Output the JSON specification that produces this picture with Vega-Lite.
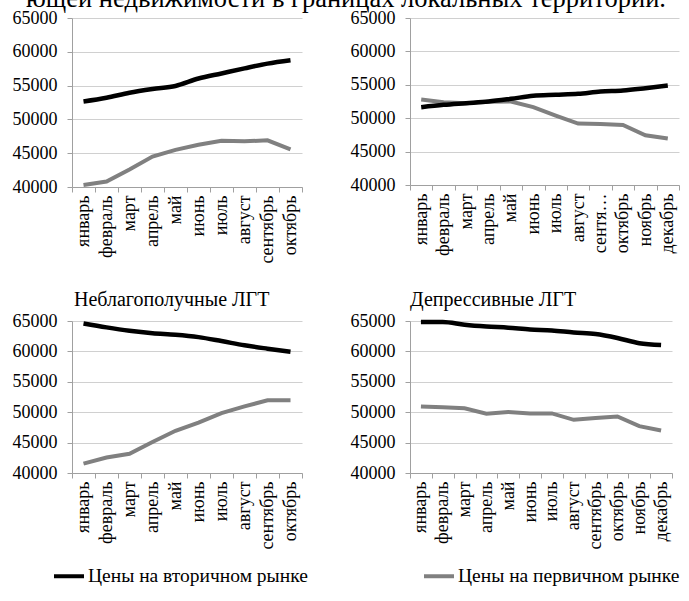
{
  "$schema": "https://vega.github.io/schema/vega-lite/v6.json",
  "padding": {"left": 12, "top": -15, "right": 0, "bottom": 0},
  "title": {"text": "ющей недвижимости в границах локальных территорий.", "font": "Liberation Serif", "fontSize": 26.5, "fontWeight": "normal", "color": "#000000", "anchor": "middle", "offset": -3},
  "datasets": {
    "prices": [
      {"panel": "A", "series": "Цены на вторичном рынке", "month": "январь", "value": 52650},
      {"panel": "A", "series": "Цены на вторичном рынке", "month": "февраль", "value": 53200},
      {"panel": "A", "series": "Цены на вторичном рынке", "month": "март", "value": 53950},
      {"panel": "A", "series": "Цены на вторичном рынке", "month": "апрель", "value": 54500},
      {"panel": "A", "series": "Цены на вторичном рынке", "month": "май", "value": 54950},
      {"panel": "A", "series": "Цены на вторичном рынке", "month": "июнь", "value": 56050},
      {"panel": "A", "series": "Цены на вторичном рынке", "month": "июль", "value": 56800},
      {"panel": "A", "series": "Цены на вторичном рынке", "month": "август", "value": 57550},
      {"panel": "A", "series": "Цены на вторичном рынке", "month": "сентябрь", "value": 58250},
      {"panel": "A", "series": "Цены на вторичном рынке", "month": "октябрь", "value": 58750},
      {"panel": "A", "series": "Цены на первичном рынке", "month": "январь", "value": 40300},
      {"panel": "A", "series": "Цены на первичном рынке", "month": "февраль", "value": 40800},
      {"panel": "A", "series": "Цены на первичном рынке", "month": "март", "value": 42600},
      {"panel": "A", "series": "Цены на первичном рынке", "month": "апрель", "value": 44500},
      {"panel": "A", "series": "Цены на первичном рынке", "month": "май", "value": 45500},
      {"panel": "A", "series": "Цены на первичном рынке", "month": "июнь", "value": 46250},
      {"panel": "A", "series": "Цены на первичном рынке", "month": "июль", "value": 46850},
      {"panel": "A", "series": "Цены на первичном рынке", "month": "август", "value": 46750},
      {"panel": "A", "series": "Цены на первичном рынке", "month": "сентябрь", "value": 46900},
      {"panel": "A", "series": "Цены на первичном рынке", "month": "октябрь", "value": 45550},
      {"panel": "B", "series": "Цены на вторичном рынке", "month": "январь", "value": 51650},
      {"panel": "B", "series": "Цены на вторичном рынке", "month": "февраль", "value": 52000},
      {"panel": "B", "series": "Цены на вторичном рынке", "month": "март", "value": 52250},
      {"panel": "B", "series": "Цены на вторичном рынке", "month": "апрель", "value": 52500},
      {"panel": "B", "series": "Цены на вторичном рынке", "month": "май", "value": 52900},
      {"panel": "B", "series": "Цены на вторичном рынке", "month": "июнь", "value": 53350},
      {"panel": "B", "series": "Цены на вторичном рынке", "month": "июль", "value": 53500},
      {"panel": "B", "series": "Цены на вторичном рынке", "month": "август", "value": 53650},
      {"panel": "B", "series": "Цены на вторичном рынке", "month": "сентябрь", "value": 54000},
      {"panel": "B", "series": "Цены на вторичном рынке", "month": "октябрь", "value": 54150},
      {"panel": "B", "series": "Цены на вторичном рынке", "month": "ноябрь", "value": 54500},
      {"panel": "B", "series": "Цены на вторичном рынке", "month": "декабрь", "value": 54900},
      {"panel": "B", "series": "Цены на первичном рынке", "month": "январь", "value": 52800},
      {"panel": "B", "series": "Цены на первичном рынке", "month": "февраль", "value": 52400},
      {"panel": "B", "series": "Цены на первичном рынке", "month": "март", "value": 52250},
      {"panel": "B", "series": "Цены на первичном рынке", "month": "апрель", "value": 52450},
      {"panel": "B", "series": "Цены на первичном рынке", "month": "май", "value": 52500},
      {"panel": "B", "series": "Цены на первичном рынке", "month": "июнь", "value": 51650},
      {"panel": "B", "series": "Цены на первичном рынке", "month": "июль", "value": 50400},
      {"panel": "B", "series": "Цены на первичном рынке", "month": "август", "value": 49200},
      {"panel": "B", "series": "Цены на первичном рынке", "month": "сентябрь", "value": 49150},
      {"panel": "B", "series": "Цены на первичном рынке", "month": "октябрь", "value": 49000},
      {"panel": "B", "series": "Цены на первичном рынке", "month": "ноябрь", "value": 47450},
      {"panel": "B", "series": "Цены на первичном рынке", "month": "декабрь", "value": 46950},
      {"panel": "C", "series": "Цены на вторичном рынке", "month": "январь", "value": 64600},
      {"panel": "C", "series": "Цены на вторичном рынке", "month": "февраль", "value": 63950},
      {"panel": "C", "series": "Цены на вторичном рынке", "month": "март", "value": 63400},
      {"panel": "C", "series": "Цены на вторичном рынке", "month": "апрель", "value": 63000},
      {"panel": "C", "series": "Цены на вторичном рынке", "month": "май", "value": 62750},
      {"panel": "C", "series": "Цены на вторичном рынке", "month": "июнь", "value": 62350},
      {"panel": "C", "series": "Цены на вторичном рынке", "month": "июль", "value": 61700},
      {"panel": "C", "series": "Цены на вторичном рынке", "month": "август", "value": 61000},
      {"panel": "C", "series": "Цены на вторичном рынке", "month": "сентябрь", "value": 60450},
      {"panel": "C", "series": "Цены на вторичном рынке", "month": "октябрь", "value": 59950},
      {"panel": "C", "series": "Цены на первичном рынке", "month": "январь", "value": 41550},
      {"panel": "C", "series": "Цены на первичном рынке", "month": "февраль", "value": 42550},
      {"panel": "C", "series": "Цены на первичном рынке", "month": "март", "value": 43150},
      {"panel": "C", "series": "Цены на первичном рынке", "month": "апрель", "value": 45100},
      {"panel": "C", "series": "Цены на первичном рынке", "month": "май", "value": 46950},
      {"panel": "C", "series": "Цены на первичном рынке", "month": "июнь", "value": 48300},
      {"panel": "C", "series": "Цены на первичном рынке", "month": "июль", "value": 49850},
      {"panel": "C", "series": "Цены на первичном рынке", "month": "август", "value": 50950},
      {"panel": "C", "series": "Цены на первичном рынке", "month": "сентябрь", "value": 51950},
      {"panel": "C", "series": "Цены на первичном рынке", "month": "октябрь", "value": 51950},
      {"panel": "D", "series": "Цены на вторичном рынке", "month": "январь", "value": 64850},
      {"panel": "D", "series": "Цены на вторичном рынке", "month": "февраль", "value": 64850},
      {"panel": "D", "series": "Цены на вторичном рынке", "month": "март", "value": 64400},
      {"panel": "D", "series": "Цены на вторичном рынке", "month": "апрель", "value": 64100},
      {"panel": "D", "series": "Цены на вторичном рынке", "month": "май", "value": 63900},
      {"panel": "D", "series": "Цены на вторичном рынке", "month": "июнь", "value": 63600},
      {"panel": "D", "series": "Цены на вторичном рынке", "month": "июль", "value": 63450},
      {"panel": "D", "series": "Цены на вторичном рынке", "month": "август", "value": 63100},
      {"panel": "D", "series": "Цены на вторичном рынке", "month": "сентябрь", "value": 62850},
      {"panel": "D", "series": "Цены на вторичном рынке", "month": "октябрь", "value": 62200},
      {"panel": "D", "series": "Цены на вторичном рынке", "month": "ноябрь", "value": 61350},
      {"panel": "D", "series": "Цены на вторичном рынке", "month": "декабрь", "value": 61050},
      {"panel": "D", "series": "Цены на первичном рынке", "month": "январь", "value": 50950},
      {"panel": "D", "series": "Цены на первичном рынке", "month": "февраль", "value": 50800},
      {"panel": "D", "series": "Цены на первичном рынке", "month": "март", "value": 50650},
      {"panel": "D", "series": "Цены на первичном рынке", "month": "апрель", "value": 49750},
      {"panel": "D", "series": "Цены на первичном рынке", "month": "май", "value": 50050},
      {"panel": "D", "series": "Цены на первичном рынке", "month": "июнь", "value": 49800},
      {"panel": "D", "series": "Цены на первичном рынке", "month": "июль", "value": 49800},
      {"panel": "D", "series": "Цены на первичном рынке", "month": "август", "value": 48750},
      {"panel": "D", "series": "Цены на первичном рынке", "month": "сентябрь", "value": 49050},
      {"panel": "D", "series": "Цены на первичном рынке", "month": "октябрь", "value": 49300},
      {"panel": "D", "series": "Цены на первичном рынке", "month": "ноябрь", "value": 47700},
      {"panel": "D", "series": "Цены на первичном рынке", "month": "декабрь", "value": 47000}
    ]
  },
  "vconcat": [
    {
      "hconcat": [
        {
          "width": 230, "height": 169,
          "data": {"name": "prices"},
          "transform": [{"filter": "datum.panel == 'A'"}],
          "encoding": {
            "x": {"field": "month", "type": "nominal", "sort": ["январь","февраль","март","апрель","май","июнь","июль","август","сентябрь","октябрь"], "scale": {"type": "band", "paddingInner": 0, "paddingOuter": 0}, "axis": {"labelFont": "Liberation Serif", "labelFontSize": 18}},
            "y": {"field": "value", "type": "quantitative", "scale": {"domain": [40000, 65000], "nice": false, "zero": false}, "axis": {"labelFont": "Liberation Serif", "labelFontSize": 18}},
            "color": {"field": "series", "type": "nominal", "legend": {"labelFont": "Liberation Serif", "labelFontSize": 19.5}}
          },
          "layer": [
            {"transform": [{"filter": "datum.series == 'Цены на первичном рынке'"}], "mark": {"type": "line", "strokeWidth": 4, "interpolate": "linear"}},
            {"transform": [{"filter": "datum.series == 'Цены на вторичном рынке'"}], "mark": {"type": "line", "strokeWidth": 4.5, "interpolate": "monotone"}}
          ]
        },
        {
          "width": 269, "height": 167,
          "data": {"name": "prices"},
          "transform": [{"filter": "datum.panel == 'B'"}],
          "encoding": {
            "x": {"field": "month", "type": "nominal", "sort": ["январь","февраль","март","апрель","май","июнь","июль","август","сентябрь","октябрь","ноябрь","декабрь"], "scale": {"type": "band", "paddingInner": 0, "paddingOuter": 0}, "axis": {"labelFont": "Liberation Serif", "labelFontSize": 18, "labelExpr": "datum.value == 'сентябрь' ? 'сентя…' : datum.value"}},
            "y": {"field": "value", "type": "quantitative", "scale": {"domain": [40000, 65000], "nice": false, "zero": false}, "axis": {"labelFont": "Liberation Serif", "labelFontSize": 18}},
            "color": {"field": "series", "type": "nominal", "legend": {"labelFont": "Liberation Serif", "labelFontSize": 19.5}}
          },
          "layer": [
            {"transform": [{"filter": "datum.series == 'Цены на первичном рынке'"}], "mark": {"type": "line", "strokeWidth": 4, "interpolate": "linear"}},
            {"transform": [{"filter": "datum.series == 'Цены на вторичном рынке'"}], "mark": {"type": "line", "strokeWidth": 4.5, "interpolate": "monotone"}}
          ]
        }
      ],
      "spacing": 47
    },
    {
      "hconcat": [
        {
          "width": 230, "height": 152,
          "title": {"text": "Неблагополучные ЛГТ", "font": "Liberation Serif", "fontSize": 20, "fontWeight": "normal", "color": "#000000", "anchor": "start", "frame": "group", "dx": 2, "offset": 2},
          "data": {"name": "prices"},
          "transform": [{"filter": "datum.panel == 'C'"}],
          "encoding": {
            "x": {"field": "month", "type": "nominal", "sort": ["январь","февраль","март","апрель","май","июнь","июль","август","сентябрь","октябрь"], "scale": {"type": "band", "paddingInner": 0, "paddingOuter": 0}, "axis": {"labelFont": "Liberation Serif", "labelFontSize": 18}},
            "y": {"field": "value", "type": "quantitative", "scale": {"domain": [40000, 65000], "nice": false, "zero": false}, "axis": {"labelFont": "Liberation Serif", "labelFontSize": 18}},
            "color": {"field": "series", "type": "nominal", "legend": {"labelFont": "Liberation Serif", "labelFontSize": 19.5}}
          },
          "layer": [
            {"transform": [{"filter": "datum.series == 'Цены на первичном рынке'"}], "mark": {"type": "line", "strokeWidth": 4, "interpolate": "linear"}},
            {"transform": [{"filter": "datum.series == 'Цены на вторичном рынке'"}], "mark": {"type": "line", "strokeWidth": 4.5, "interpolate": "monotone"}}
          ]
        },
        {
          "width": 262, "height": 152,
          "title": {"text": "Депрессивные ЛГТ", "font": "Liberation Serif", "fontSize": 20, "fontWeight": "normal", "color": "#000000", "anchor": "start", "frame": "group", "dx": 0, "offset": 2},
          "data": {"name": "prices"},
          "transform": [{"filter": "datum.panel == 'D'"}],
          "encoding": {
            "x": {"field": "month", "type": "nominal", "sort": ["январь","февраль","март","апрель","май","июнь","июль","август","сентябрь","октябрь","ноябрь","декабрь"], "scale": {"type": "band", "paddingInner": 0, "paddingOuter": 0}, "axis": {"labelFont": "Liberation Serif", "labelFontSize": 18}},
            "y": {"field": "value", "type": "quantitative", "scale": {"domain": [40000, 65000], "nice": false, "zero": false}, "axis": {"labelFont": "Liberation Serif", "labelFontSize": 18}},
            "color": {"field": "series", "type": "nominal", "legend": {"labelFont": "Liberation Serif", "labelFontSize": 19.5}}
          },
          "layer": [
            {"transform": [{"filter": "datum.series == 'Цены на первичном рынке'"}], "mark": {"type": "line", "strokeWidth": 4, "interpolate": "linear"}},
            {"transform": [{"filter": "datum.series == 'Цены на вторичном рынке'"}], "mark": {"type": "line", "strokeWidth": 4.5, "interpolate": "monotone"}}
          ]
        }
      ],
      "spacing": 47
    }
  ],
  "spacing": 26,
  "resolve": {"scale": {"color": "shared"}},
  "config": {
    "font": "Liberation Serif",
    "view": {"stroke": null},
    "title": {"font": "Liberation Serif", "fontSize": 20, "fontWeight": "normal", "color": "#000000"},
    "range": {"category": ["#000000", "#808080"]},
    "axis": {"labelFont": "Liberation Serif", "labelFontSize": 18, "labelColor": "#000000", "domainColor": "#a0a0a0", "tickColor": "#a0a0a0", "gridColor": "#d0d0d0", "title": null, "labelOverlap": false},
    "axisX": {"labelAngle": -90, "grid": false, "tickBand": "extent", "tickSize": 5, "labelPadding": 3, "labelLimit": 200},
    "axisY": {"values": [40000, 45000, 50000, 55000, 60000, 65000], "format": "d", "tickSize": 5, "labelPadding": 10, "grid": true},
    "legend": {"orient": "none", "legendX": -20, "legendY": 541, "direction": "horizontal", "columns": 2, "title": null, "labelFont": "Liberation Serif", "labelFontSize": 19.5, "labelColor": "#000000", "labelLimit": 400, "symbolType": "stroke", "symbolSize": 900, "symbolStrokeWidth": 4, "labelOffset": 2, "columnPadding": 108}
  }
}
